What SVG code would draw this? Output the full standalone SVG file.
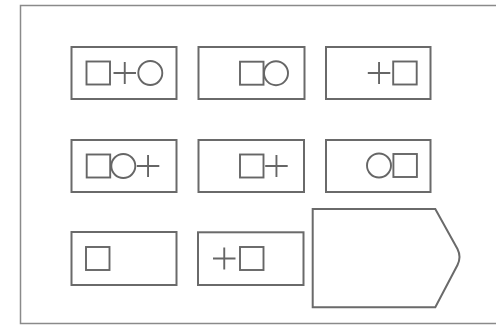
<svg xmlns="http://www.w3.org/2000/svg" width="496" height="325" viewBox="0 0 496 325">
<style>
.frame{fill:none;stroke:#8a8a8a;stroke-width:1.5}
.box{fill:#fff;stroke:#6a6a6a;stroke-width:2}
.sym{fill:none;stroke:#666;stroke-width:1.9}
</style>
<defs>
<rect id="sq" class="sym" x="0" y="0" width="23.5" height="23"/>
<circle id="ci" class="sym" cx="12.5" cy="11.5" r="12"/>
<path id="pl" class="sym" d="M0,11.5H22.5M11.25,0.5V22.5"/>
</defs>
<rect width="496" height="325" fill="#fff"/>
<path class="frame" d="M498,5.5H20.5V323.5H498"/>
<g id="connectors"/>
<g id="n1"><rect class="box" x="71.5" y="47" width="105" height="52"/>
<use href="#sq" x="86.5" y="61.5"/><use href="#pl" x="113.5" y="61.5"/><use href="#ci" x="137.8" y="61.5"/></g>
<g id="n2"><rect class="box" x="198.5" y="47" width="106" height="52"/>
<use href="#sq" x="240" y="61.7"/><use href="#ci" x="263.5" y="61.7"/></g>
<g id="n3"><rect class="box" x="326" y="47" width="104.5" height="52"/>
<use href="#pl" x="367.8" y="61.5"/><use href="#sq" x="393.2" y="61.5"/></g>
<g id="n4"><rect class="box" x="71.5" y="140" width="105" height="52"/>
<use href="#sq" x="86.7" y="154.5"/><use href="#ci" x="110.8" y="154.5"/><use href="#pl" x="136.8" y="154.5"/></g>
<g id="n5"><rect class="box" x="198.5" y="140" width="105.5" height="52"/>
<use href="#sq" x="240" y="154.5"/><use href="#pl" x="265.2" y="154.5"/></g>
<g id="n6"><rect class="box" x="326" y="140" width="104.5" height="52"/>
<use href="#ci" x="366.5" y="154"/><use href="#sq" x="393.4" y="154"/></g>
<g id="n7"><rect class="box" x="71.5" y="232" width="105" height="53"/>
<use href="#sq" x="86" y="247"/></g>
<g id="n8"><rect class="box" x="198" y="232.3" width="105.5" height="52.7"/>
<use href="#pl" x="213" y="247"/><use href="#sq" x="240" y="247"/></g>
<g id="n9"><path class="box" d="M312.7,209H435.3L457.5,249Q461.5,257 457.5,265L435.3,307.3H312.7Z"/></g>
</svg>
